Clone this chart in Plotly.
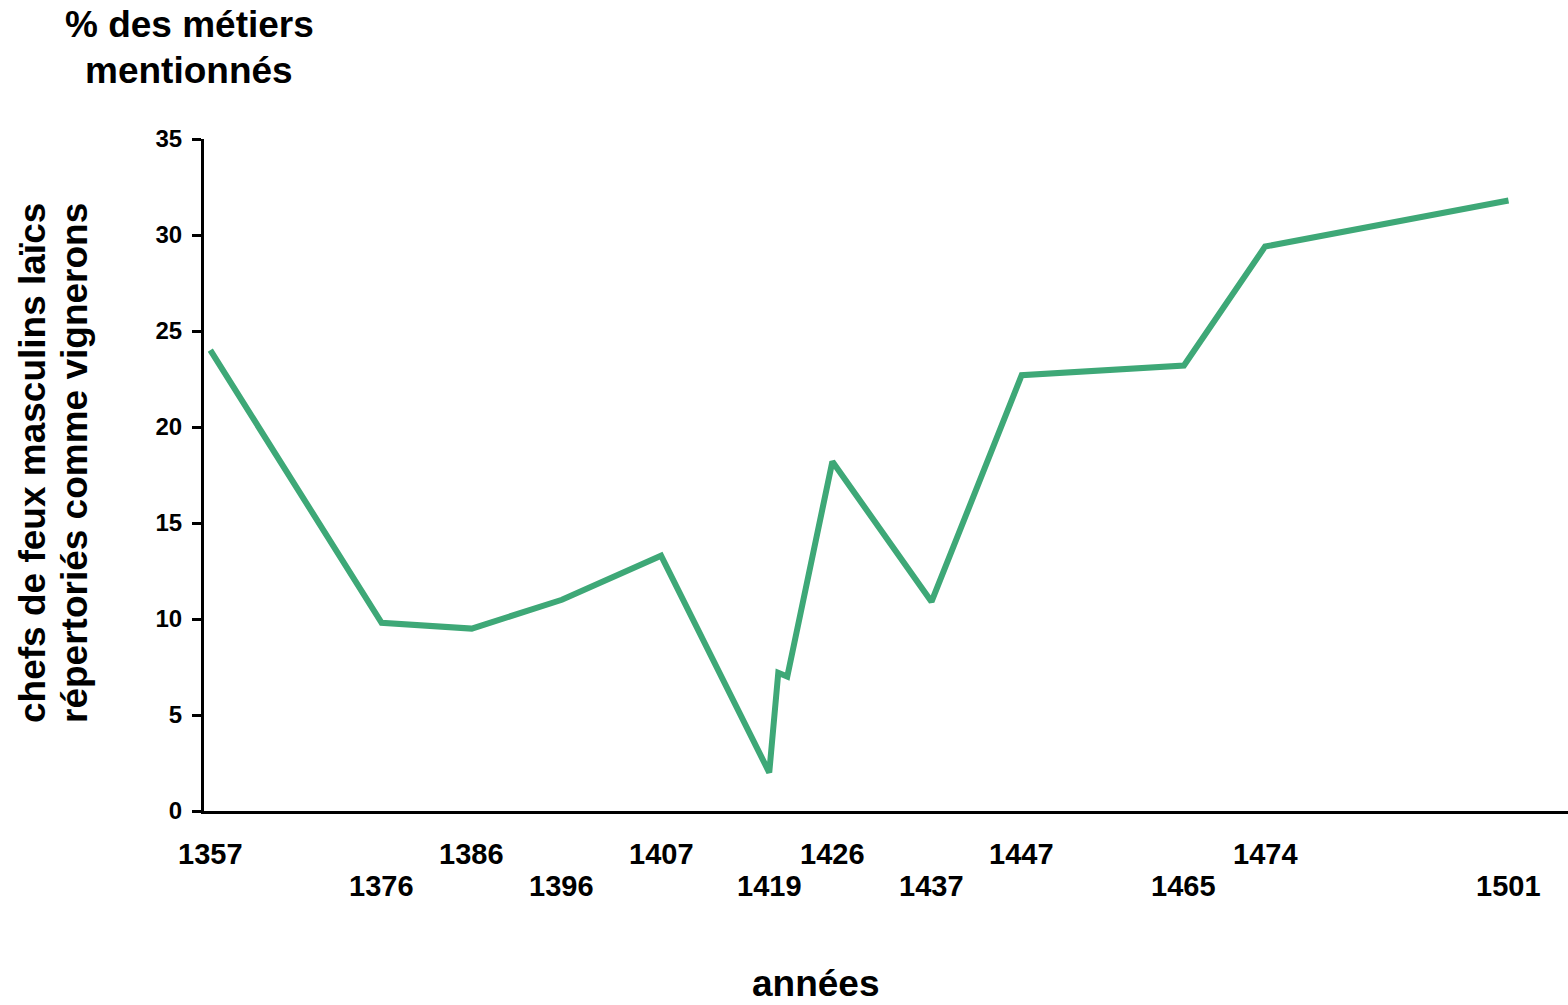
import plotly.graph_objects as go

# Data
years = [1357, 1376, 1386, 1396, 1407, 1419, 1420, 1421, 1426, 1437, 1447, 1465, 1474, 1501]
pct_vignerons = [24.0, 9.8, 9.5, 11.0, 13.3, 2.0, 7.2, 7.0, 18.2, 10.9, 22.7, 23.2, 29.4, 31.8]

labels_upper = [1357, 1386, 1407, 1426, 1447, 1474]
labels_lower = [1376, 1396, 1419, 1437, 1465, 1501]
y_ticks = [0, 5, 10, 15, 20, 25, 30, 35]

FONT = "Liberation Sans, Arial, Helvetica, sans-serif"
GREEN = "#3EA877"

fig = go.Figure()
fig.add_trace(go.Scatter(
    x=years, y=pct_vignerons, mode="lines",
    line=dict(color=GREEN, width=6),
    hoverinfo="x+y", showlegend=False,
))

W, H = 1568, 1005
L, R, T, B = 204, 0, 139, 194

fig.update_layout(
    width=W, height=H,
    margin=dict(l=L, r=R, t=T, b=B, pad=0),
    paper_bgcolor="white", plot_bgcolor="white",
    font=dict(family=FONT, color="black"),
    showlegend=False,
)

fig.update_xaxes(
    range=[1356.3, 1507.6],
    showgrid=False, zeroline=False,
    showline=True, linecolor="black", linewidth=3,
    showticklabels=False, ticks="",
)
fig.update_yaxes(
    range=[0, 35],
    tickvals=y_ticks,
    showgrid=False, zeroline=False,
    showline=True, linecolor="black", linewidth=3,
    ticks="outside", ticklen=9, tickwidth=3, tickcolor="black",
    tickfont=dict(family=FONT, size=24, color="black", weight="bold"),
    ticklabelstandoff=5,
)

annotations = []
for yr in labels_upper:
    annotations.append(dict(x=yr, y=0, xref="x", yref="paper", text=f"<b>{yr}</b>",
                            showarrow=False, yanchor="middle", xanchor="center", yshift=-43,
                            font=dict(family=FONT, size=29, color="black")))
for yr in labels_lower:
    annotations.append(dict(x=yr, y=0, xref="x", yref="paper", text=f"<b>{yr}</b>",
                            showarrow=False, yanchor="middle", xanchor="center", yshift=-75,
                            font=dict(family=FONT, size=29, color="black")))

# titles, positioned in full-figure pixel coordinates then converted to plot-area fractions
titles = [
    (189, 25, "<b>% des métiers</b>", 0),
    (189, 70, "<b>mentionnés</b>", 0),
    (33, 463, "<b>chefs de feux masculins laïcs</b>", -90),
    (75, 463, "<b>répertoriés comme vignerons</b>", -90),
    (816, 983, "<b>années</b>", 0),
]
pw, ph = W - L - R, H - T - B
for px, py, txt, ang in titles:
    annotations.append(dict(
        x=(px - L) / pw, y=(H - B - py) / ph, xref="paper", yref="paper", text=txt,
        showarrow=False, xanchor="center", yanchor="middle", textangle=ang,
        font=dict(family=FONT, size=37, color="black")))

fig.update_layout(annotations=annotations)
fig.write_html("out.html", config={"displayModeBar": False},
               post_script="document.body.style.margin='0';")
